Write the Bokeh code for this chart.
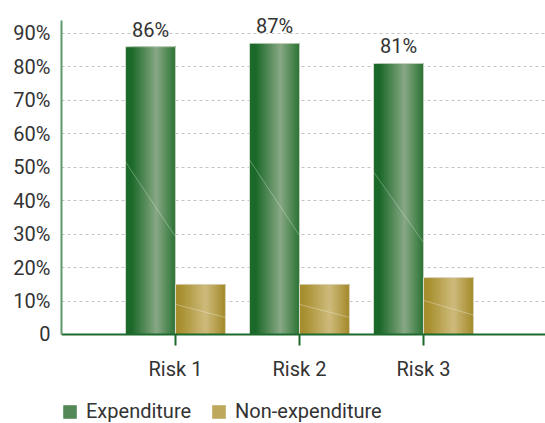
from bokeh.plotting import figure
from bokeh.models import (ColumnDataSource, FixedTicker, Range1d, Legend, LegendItem)
from bokeh.core.properties import value
from bokeh.embed import file_html
from bokeh.resources import INLINE
import numpy as np

# --- data -------------------------------------------------------------
categories = ["Risk 1", "Risk 2", "Risk 3"]
expenditure = [86, 87, 81]
non_expenditure = [15, 15, 17]
series_names = ["Expenditure", "Non-expenditure"]
y_ticks = [0, 10, 20, 30, 40, 50, 60, 70, 80, 90]
y_tick_labels = ["0"] + [f"{t}%" for t in y_ticks[1:]]
y_axis_top = 93.8

FONT = "Roboto"
TEXT_COLOR = "#333333"

# horizontal "cylinder" shading for each series
green_stops = [(0.0, "#1e6b2b"), (0.12, "#1a6828"), (0.62, "#88a885"), (1.0, "#2a7333")]
gold_stops = [(0.0, "#a58c2e"), (0.10, "#a88f30"), (0.60, "#cebb7c"), (1.0, "#a38929")]


def hex_to_rgb(h):
    h = h.lstrip("#")
    return np.array([int(h[i:i + 2], 16) for i in (0, 2, 4)], dtype=float)


def shade(stops, t):
    pos = [s[0] for s in stops]
    cols = [hex_to_rgb(s[1]) for s in stops]
    for k in range(len(pos) - 1):
        if pos[k] <= t <= pos[k + 1]:
            f = (t - pos[k]) / (pos[k + 1] - pos[k])
            c = cols[k] * (1 - f) + cols[k + 1] * f
            return "#%02x%02x%02x" % tuple(int(round(v)) for v in c)
    return stops[-1][1]


x_pos = np.arange(1, len(categories) + 1)
bar_w = 0.4032          # width of one bar in x units
n_strips = 25

# the frame fills the whole canvas vertically; the category axis is pinned
# at y = 0 and the legend sits underneath it inside the frame
p = figure(width=545, height=423, output_backend="svg", toolbar_location=None,
           x_range=Range1d(0.081, 3.984), y_range=Range1d(-26.6, 99.8),
           min_border_left=61, min_border_right=0, min_border_top=0,
           min_border_bottom=0)
p.outline_line_color = None
p.background_fill_color = "white"
p.border_fill_color = "white"


def add_bars(values, offset, stops):
    lefts, rights, tops, colors = [], [], [], []
    sw = bar_w / n_strips
    for xi, v in zip(x_pos, values):
        right_edge = xi + offset + bar_w
        for j in range(n_strips):
            # each strip runs to the bar's right edge; later strips cover
            # earlier ones, so no hairline seams appear between them
            lefts.append(xi + offset + j * sw)
            rights.append(right_edge)
            tops.append(v)
            colors.append(shade(stops, (j + 0.5) / n_strips))
    src = ColumnDataSource(dict(left=lefts, right=rights, top=tops,
                                bottom=[0] * len(tops), color=colors))
    r = p.quad(left="left", right="right", top="top", bottom="bottom",
               fill_color="color", line_color=None, source=src)
    # thin outline and glass highlight
    bl = [xi + offset for xi in x_pos]
    br = [xi + offset + bar_w for xi in x_pos]
    p.quad(left=bl, right=br, top=list(values), bottom=[0] * len(values),
           fill_color=None, line_color="#e6e6e0", line_width=1, line_alpha=0.8)
    p.segment(x0=bl, y0=[v * 0.6 for v in values], x1=br, y1=[v * 0.34 for v in values],
              line_color="white", line_alpha=0.3, line_width=1)
    return r


r_exp = add_bars(expenditure, -bar_w, green_stops)
r_non = add_bars(non_expenditure, 0.0, gold_stops)

# value labels above the expenditure bars
p.text(x=[xi - bar_w / 2 for xi in x_pos], y=expenditure,
       text=[f"{v}%" for v in expenditure],
       text_font=value(FONT), text_font_size="20px", text_color=TEXT_COLOR,
       text_align="center", text_baseline="alphabetic", y_offset=-17)

# axes
p.xaxis.fixed_location = 0
p.xaxis.ticker = FixedTicker(ticks=list(x_pos))
p.xaxis.major_label_overrides = {int(x): c for x, c in zip(x_pos, categories)}
p.xaxis.axis_line_color = "#1d6a2c"
p.xaxis.axis_line_width = 2
p.xaxis.major_tick_line_color = "#1d6a2c"
p.xaxis.major_tick_line_width = 2
p.xaxis.major_tick_out = 11
p.xaxis.major_tick_in = 0
p.xaxis.minor_tick_line_color = None
p.xaxis.major_label_standoff = 12

p.yaxis.ticker = FixedTicker(ticks=y_ticks)
p.yaxis.bounds = (0, y_axis_top)
p.yaxis.major_label_overrides = {t: l for t, l in zip(y_ticks, y_tick_labels)}
p.yaxis.axis_line_color = "#5e9a6a"
p.yaxis.axis_line_width = 2
p.yaxis.major_tick_line_color = None
p.yaxis.minor_tick_line_color = None
p.yaxis.major_label_standoff = 5

for ax in (p.xaxis, p.yaxis):
    ax.major_label_text_font = FONT
    ax.major_label_text_font_size = "20px"
    ax.major_label_text_color = TEXT_COLOR

p.xgrid.grid_line_color = None
p.ygrid.grid_line_color = "#c4c4c4"
p.ygrid.grid_line_dash = "3 3"
p.ygrid.grid_line_width = 1

legend = Legend(items=[LegendItem(label=series_names[0], renderers=[r_exp], index=9),
                       LegendItem(label=series_names[1], renderers=[r_non], index=9)],
                orientation="horizontal", location=(0, 0),
                glyph_width=17, glyph_height=17, label_height=17,
                label_standoff=8, spacing=19, padding=0, margin=0,
                border_line_color=None, background_fill_alpha=0,
                label_text_font=FONT, label_text_font_size="20px",
                label_text_color=TEXT_COLOR)
p.add_layout(legend, "center")

open("out.html", "w").write(file_html(p, INLINE))
